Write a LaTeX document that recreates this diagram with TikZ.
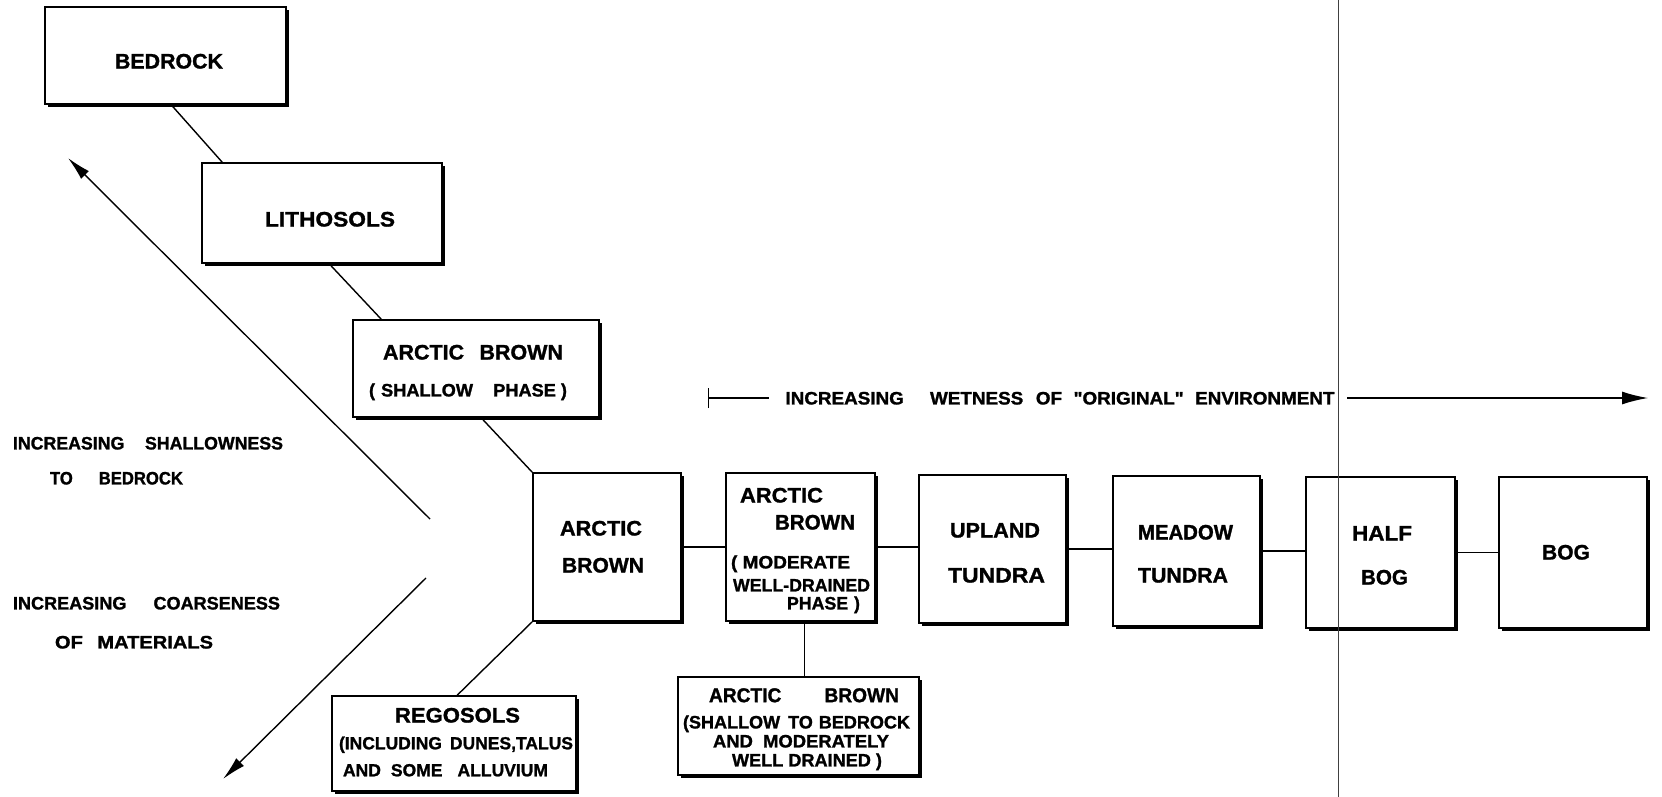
\documentclass[tikz,border=0pt]{standalone}
\usepackage{fontspec}
\setmainfont{Liberation Sans}[Ligatures=TeXOff, BoldFeatures={FakeBold=1.3}]
\usepackage{graphicx}
\usetikzlibrary{arrows.meta,shadows,calc}

% one lettered line: #1 = width, #2 = font size (both in pt); the box is as tall as a capital
\newcommand\fitt[3]{\rule{0pt}{\dimexpr #2pt*716/1000\relax}\smash{\resizebox{#1pt}{\height}{\fontsize{#2pt}{#2pt}\selectfont\bfseries #3}}}

\begin{document}
\begin{tikzpicture}[x=1pt,y=-1pt,
  soilbox/.style={draw, line width=1.6pt, fill=white, inner sep=0,
    drop shadow={shadow xshift=2.8pt, shadow yshift=-2.8pt, fill=black, opacity=1}},
  word/.style={inner sep=0, anchor=center},
  link/.style={line width=1.4pt},
  trend/.style={line width=1.4pt, -{Latex[length=24pt,width=11pt]}},
  fold/.style={line width=0.8pt, black!75}]

\fill[white] (0,0) rectangle (1662,797);
\useasboundingbox (0,0) rectangle (1662,797);

% ---- boxes: the shallowness branch
\node[soilbox, minimum width=241pt, minimum height=97pt]  (bedrock) at (165.5,55.5) {};
\node[soilbox, minimum width=240pt, minimum height=100pt] (litho)   at (322,213) {};
\node[soilbox, minimum width=246pt, minimum height=97pt]  (shallow) at (476,368.5) {};
\node[soilbox, minimum width=244pt, minimum height=95pt]  (rego)    at (454,743.5) {};

% ---- boxes: the wetness sequence
\node[soilbox, minimum width=148pt, minimum height=148pt] (ab)    at (607,547) {};
\node[soilbox, minimum width=149pt, minimum height=148pt] (mod)   at (800.5,547) {};
\node[soilbox, minimum width=147pt, minimum height=148pt] (upl)   at (992.5,549) {};
\node[soilbox, minimum width=147pt, minimum height=150pt] (mea)   at (1186.5,551) {};
\node[soilbox, minimum width=149pt, minimum height=151pt] (half)  at (1380.5,552.5) {};
\node[soilbox, minimum width=148pt, minimum height=151pt] (bog)   at (1573,552.5) {};
\node[soilbox, minimum width=241pt, minimum height=98pt]  (lower) at (798.5,726) {};

% ---- box lettering
\node[word] (tBedrock) at (169,61)  {\fitt{108}{21}{BEDROCK}};
\node[word] (tLitho)   at (330,219) {\fitt{130}{21}{LITHOSOLS}};
\node[word] (tSh1) at (473,352) {\fitt{180}{21}{ARCTIC\hspace{15pt}BROWN}};
\node[word] (tSh2) at (468,390) {\fitt{198}{18}{(\hspace{6pt}SHALLOW\hspace{20pt}PHASE\hspace{5pt})}};

\node[word] (tAb1) at (601,528) {\fitt{82}{21}{ARCTIC}};
\node[word] (tAb2) at (603,565) {\fitt{82}{21}{BROWN}};

\node[word] (tMo1) at (781.5,495) {\fitt{83}{21}{ARCTIC}};
\node[word] (tMo2) at (815,522)   {\fitt{80}{21}{BROWN}};
\node[word] (tMo3) at (790.5,562) {\fitt{119}{18}{(\hspace{5pt}MODERATE}};
\node[word] (tMo4) at (801.5,585) {\fitt{137}{18}{WELL-DRAINED}};
\node[word] (tMo5) at (823.5,603) {\fitt{73}{18}{PHASE\hspace{6pt})}};

\node[word] (tUp1) at (995,530)    {\fitt{90}{21}{UPLAND}};
\node[word] (tUp2) at (996.5,575)  {\fitt{97}{21}{TUNDRA}};
\node[word] (tMe1) at (1185.5,532) {\fitt{95}{21}{MEADOW}};
\node[word] (tMe2) at (1183,575)   {\fitt{90}{21}{TUNDRA}};
\node[word] (tHa1) at (1382,533)   {\fitt{60}{21}{HALF}};
\node[word] (tHa2) at (1384.5,577) {\fitt{47}{21}{BOG}};
\node[word] (tBog) at (1566,552)   {\fitt{48}{21}{BOG}};

\node[word] (tRe1) at (457.5,715) {\fitt{125}{21}{REGOSOLS}};
\node[word] (tRe2) at (456,743)   {\fitt{234}{17.5}{(INCLUDING\hspace{8pt}DUNES,TALUS}};
\node[word] (tRe3) at (445.5,770) {\fitt{205}{17.5}{AND\hspace{10pt}SOME\hspace{15pt}ALLUVIUM}};

\node[word] (tLo1) at (804,695) {\fitt{190}{20}{ARCTIC\hspace{45pt}BROWN}};
\node[word] (tLo2) at (796.5,722) {\fitt{227}{18}{(SHALLOW\hspace{8pt}TO\hspace{6pt}BEDROCK}};
\node[word] (tLo3) at (801,741) {\fitt{176}{18}{AND\hspace{10pt}MODERATELY}};
\node[word] (tLo4) at (807,760) {\fitt{150}{18}{WELL\hspace{5pt}DRAINED\hspace{5pt})}};

% ---- side labels
\node[word] (sh1) at (148,443)   {\fitt{270}{18}{INCREASING\hspace{21pt}SHALLOWNESS}};
\node[word] (sh2) at (116.5,478) {\fitt{133}{18}{TO\hspace{28pt}BEDROCK}};
\node[word] (co1) at (146.5,603) {\fitt{267}{18}{INCREASING\hspace{27pt}COARSENESS}};
\node[word] (co2) at (134,642)   {\fitt{158}{18}{OF\hspace{13pt}MATERIALS}};

% ---- connectors
\draw[link] ($(bedrock.south west)+(127,0)$) -- ($(litho.north west)+(21,0)$);
\draw[link] ($(litho.south west)+(128,0)$) -- ($(shallow.north west)+(29,0)$);
\draw[link] ($(shallow.south west)+(129,0)$) -- (ab.north west);
\draw[link] (ab.south west) -- ($(rego.north west)+(126,0)$);
\draw[link] (ab.east)   -- (ab.east -| mod.west);
\draw[link] (mod.east)  -- (mod.east -| upl.west);
\draw[link] (upl.east)  -- (upl.east -| mea.west);
\draw[link] (mea.east)  -- (mea.east -| half.west);
\draw[link] (half.east) -- (half.east -| bog.west);
\coordinate (modFoot) at ($(mod.south west)+(79,0)$);
\draw[link] (modFoot) -- (modFoot |- lower.north);

% ---- trend arrows
\coordinate (upFrom) at (430,519);
\coordinate (upTo)   at (68,158);
\coordinate (dnFrom) at (426,578);
\coordinate (dnTo)   at (223,779);
\draw[trend] (upFrom) -- (upTo);
\draw[trend] (dnFrom) -- (dnTo);

% ---- wetness scale
\coordinate (wA) at (708,398);
\coordinate (wB) at (769,398);
\node[word] (wet) at (1060,398) {\fitt{549}{18}{INCREASING\hspace{25pt}WETNESS\hspace{12pt}OF\hspace{11pt}"ORIGINAL"\hspace{11pt}ENVIRONMENT}};
\coordinate (wC) at (1347,398);
\coordinate (wD) at (1648,398);
\draw[line width=1.4pt, {Bar[width=20pt]}-] (wA) -- (wB);
\draw[line width=1.4pt, -{Latex[length=26pt,width=13pt]}] (wC) -- (wD);

% ---- thin vertical rule across the sheet
\coordinate (vTop) at (1338,0);
\coordinate (vBot) at (1338,797);
\draw[fold] (vTop) -- (vBot);
\end{tikzpicture}
\end{document}
